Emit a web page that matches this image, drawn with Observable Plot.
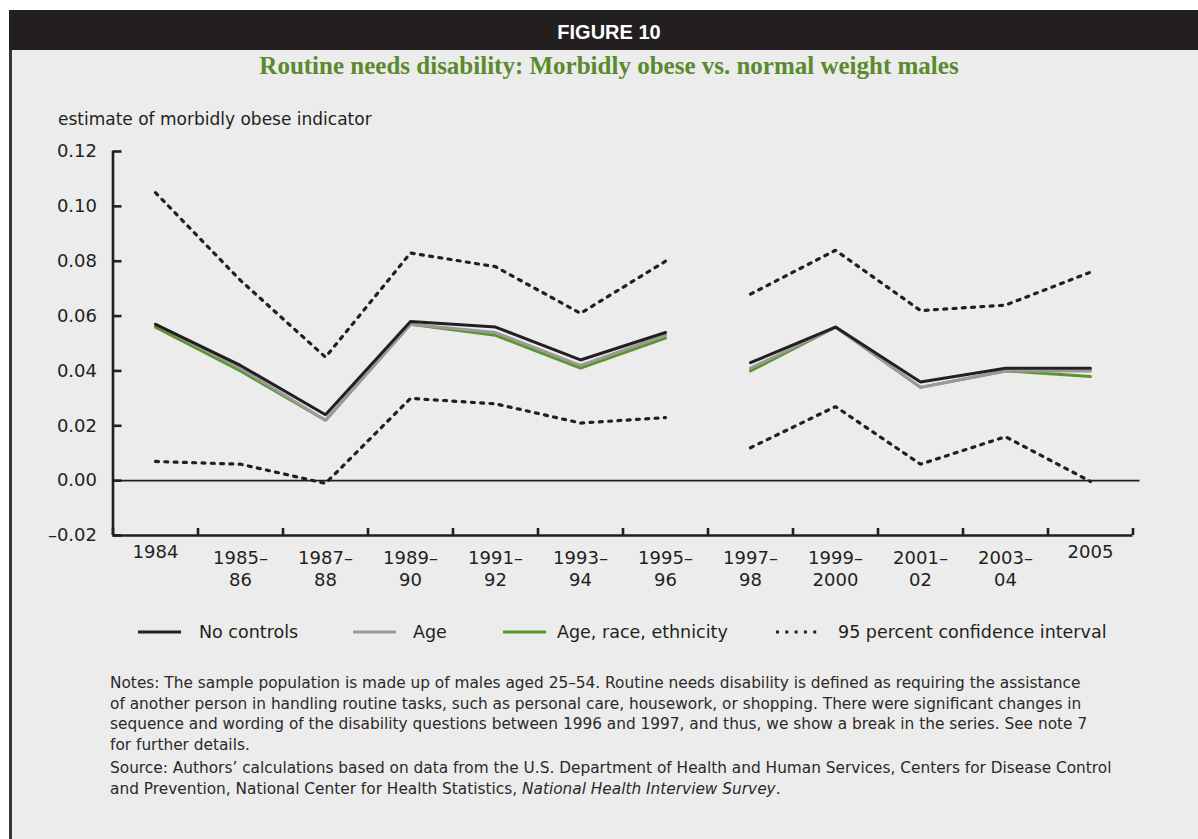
<!DOCTYPE html>
<html>
<head>
<meta charset="utf-8">
<script src="https://cdn.jsdelivr.net/npm/d3@7"></script>
<script src="https://cdn.jsdelivr.net/npm/@observablehq/plot@0.6"></script>
<style>
  html, body { margin: 0; padding: 0; background: #ffffff; }
  #page { position: relative; width: 1198px; height: 839px; overflow: hidden;
          font-family: "DejaVu Sans", sans-serif; color: #231f20; }
  #panel { position: absolute; left: 9px; top: 10px; right: 0; bottom: 0;
           background: #ececec; border-left: 3px solid #3a3637; }
  #band { position: absolute; left: 9px; top: 10px; right: 0; height: 40px; background: #231f20; }
  #fig { position: absolute; left: 0; width: 1218px; top: 12px; height: 40px;
         text-align: center; color: #ffffff; font: bold 20px "Liberation Sans", Arial, sans-serif; line-height: 40px; }
  #title { position: absolute; left: 0; width: 1218px; top: 52px; text-align: center;
           font: bold 25px "Liberation Serif", "Times New Roman", serif; color: #5a8a2e; }
  #ylabel { position: absolute; left: 58px; top: 109px; font-size: 17px; line-height: 20px; }
  #chart { position: absolute; left: 0; top: 130px; }
  #legend { position: absolute; left: 0; top: 621px; width: 1198px; height: 22px; font-size: 17.5px; }
  .item { position: absolute; top: 0; height: 22px; line-height: 22px; white-space: nowrap; }
  .item svg { position: absolute; left: 0; top: 0; }
  .item span { position: absolute; top: 0; }
  #notes { position: absolute; left: 110px; top: 673px; width: 1020px; font-size: 15.35px;
           line-height: 20.5px; color: #2b2829; }
  #notes p { margin: 0 0 3px 0; }
</style>
</head>
<body>
<div id="page">
  <div id="panel"></div>
  <div id="band"></div>
  <div id="fig">FIGURE 10</div>
  <div id="title">Routine needs disability: Morbidly obese vs. normal weight males</div>
  <div id="ylabel">estimate of morbidly obese indicator</div>
  <div id="chart"></div>
  <div id="legend"></div>
  <div id="notes">
    <p>Notes: The sample population is made up of males aged 25–54. Routine needs disability is defined as requiring the assistance<br>of another person in handling routine tasks, such as personal care, housework, or shopping. There were significant changes in<br>sequence and wording of the disability questions between 1996 and 1997, and thus, we show a break in the series. See note 7<br>for further details.</p>
    <p>Source: Authors’ calculations based on data from the U.S. Department of Health and Human Services, Centers for Disease Control<br>and Prevention, National Center for Health Statistics, <i>National Health Interview Survey</i>.</p>
  </div>
</div>
<script>
// Survey periods (x-axis categories)
const categories = ["1984", "1985–\n86", "1987–\n88", "1989–\n90", "1991–\n92", "1993–\n94",
  "1995–\n96", "1997–\n98", "1999–\n2000", "2001–\n02", "2003–\n04", "2005"];

// Estimates of the morbidly obese indicator, by set of controls
const noControls       = [0.057, 0.042, 0.024, 0.058, 0.056, 0.044, 0.054, 0.043, 0.056, 0.036, 0.041, 0.041];
const age              = [0.057, 0.041, 0.022, 0.057, 0.054, 0.042, 0.053, 0.041, 0.056, 0.034, 0.040, 0.040];
const ageRaceEthnicity = [0.056, 0.040, 0.022, 0.057, 0.053, 0.041, 0.052, 0.040, 0.056, 0.034, 0.040, 0.038];

// 95 percent confidence interval bounds
const ciUpper = [0.105, 0.073, 0.045, 0.083, 0.078, 0.061, 0.080, 0.068, 0.084, 0.062, 0.064, 0.076];
const ciLower = [0.007, 0.006, -0.001, 0.030, 0.028, 0.021, 0.023, 0.012, 0.027, 0.006, 0.016, -0.0003];

// y-axis ticks
const yTicks = [-0.02, 0, 0.02, 0.04, 0.06, 0.08, 0.10, 0.12];

// Series names and styles
const seriesNames = ["No controls", "Age", "Age, race, ethnicity", "95 percent confidence interval"];
const ink = "#231f20";
const gray = "#9a9a9a";
const green = "#5a962e";
const dots = "3,6.3";

// The question wording changed between 1996 and 1997: the series break after 1995–96.
const breakAfter = 6;
function rows(name, values) {
  return values.map((v, i) => ({
    series: name,
    segment: name + (i <= breakAfter ? "-a" : "-b"),
    x: i + 0.5,
    y: v
  }));
}

const solid = [
  {name: seriesNames[2], values: ageRaceEthnicity, color: green},
  {name: seriesNames[1], values: age, color: gray},
  {name: seriesNames[0], values: noControls, color: ink}
];
const bounds = [
  ...rows("upper", ciUpper),
  ...rows("lower", ciLower)
];

const edges = d3.range(0, categories.length + 1);
const fmt = d3.format(".2f");
const periods = categories.map((label, i) => ({label, x: i + 0.5, twoLines: label.includes("\n")}));

const chart = Plot.plot({
  width: 1198,
  height: 480,
  marginLeft: 112.5,
  marginRight: 65.5,
  marginTop: 21,
  marginBottom: 75,
  style: {background: "transparent", fontFamily: "DejaVu Sans, sans-serif", fontSize: "18px", color: ink},
  x: {domain: [0, categories.length], label: null},
  y: {domain: [-0.02, 0.12], label: null},
  marks: [
    // zero reference line
    Plot.ruleY([0], {x1: 0, x2: categories.length, insetRight: -7, stroke: ink, strokeWidth: 1.6}),
    // axis lines
    Plot.ruleX([0], {y1: -0.02, y2: 0.12, stroke: ink, strokeWidth: 2.6}),
    Plot.ruleY([-0.02], {x1: 0, x2: categories.length, stroke: ink, strokeWidth: 2.6}),
    // y ticks point inward, labels to the left
    Plot.axisY(yTicks, {
      anchor: "left", label: null, tickSize: -9, tickPadding: 25, strokeWidth: 2.6, stroke: ink,
      tickFormat: d => d < 0 ? "–" + fmt(-d) : fmt(d), fontSize: 18, fill: ink
    }),
    // x ticks at period boundaries, pointing inward
    Plot.axisX(edges, {anchor: "bottom", label: null, tickSize: -7, strokeWidth: 2.6, stroke: ink, tickFormat: () => ""}),
    // period labels centred under each period
    Plot.text(periods.filter(d => d.twoLines), {
      x: "x", text: "label", frameAnchor: "bottom", lineAnchor: "top",
      dy: 13, lineHeight: 1.22, fontSize: 18, fill: ink
    }),
    Plot.text(periods.filter(d => !d.twoLines), {
      x: "x", text: "label", frameAnchor: "bottom", lineAnchor: "top",
      dy: 10, fontSize: 18, fill: ink
    }),
    // confidence interval
    Plot.line(bounds, {
      x: "x", y: "y", z: "segment", stroke: ink, strokeWidth: 3.2,
      strokeDasharray: dots, strokeLinejoin: "miter"
    }),
    // estimates
    ...solid.map(s => Plot.line(rows(s.name, s.values), {
      x: "x", y: "y", z: "segment", stroke: s.color, strokeWidth: 3, strokeLinejoin: "miter"
    }))
  ]
});
document.getElementById("chart").appendChild(chart);

// Legend
const legendItems = [
  {name: seriesNames[0], color: ink, dash: null, left: 138, gap: 61},
  {name: seriesNames[1], color: gray, dash: null, left: 353, gap: 60},
  {name: seriesNames[2], color: green, dash: null, left: 503, gap: 54},
  {name: seriesNames[3], color: ink, dash: dots, left: 776, gap: 62}
];
const legend = document.getElementById("legend");
for (const item of legendItems) {
  const div = document.createElement("div");
  div.className = "item";
  div.style.left = item.left + "px";
  div.innerHTML =
    `<svg width="44" height="22"><line x1="0" x2="43" y1="11" y2="11" stroke="${item.color}" stroke-width="3.2"` +
    (item.dash ? ` stroke-dasharray="${item.dash}"` : "") + `/></svg>` +
    `<span style="left:${item.gap}px">${item.name}</span>`;
  legend.appendChild(div);
}
</script>
</body>
</html>
